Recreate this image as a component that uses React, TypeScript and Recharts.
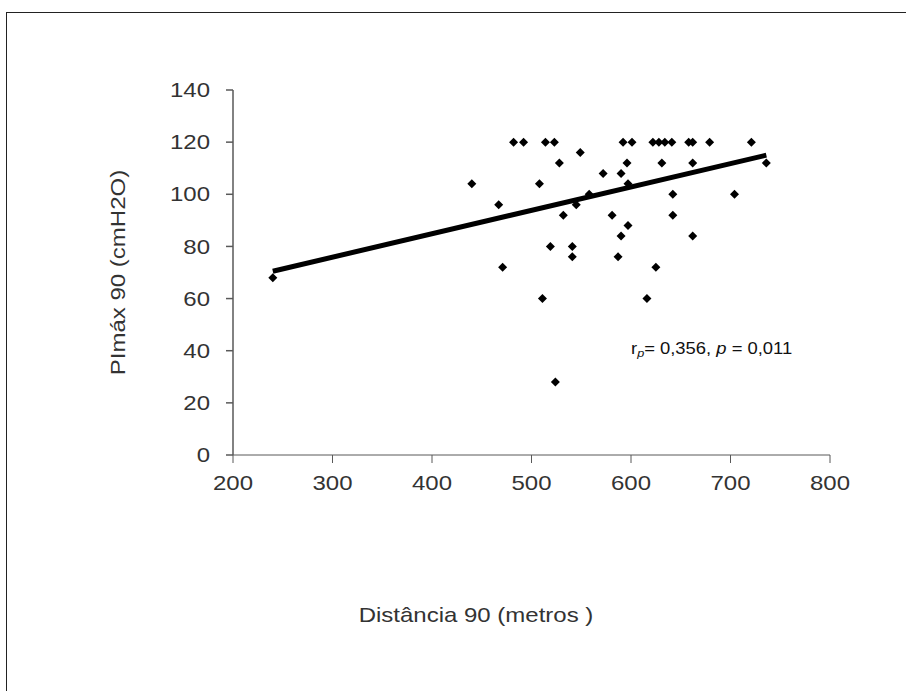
import { Label, ReferenceLine, Scatter, ScatterChart, XAxis, YAxis } from "recharts";

// Distância 90 (metros) x PImáx 90 (cmH2O)
const distancia = [
  240, 440, 467, 471, 482, 492, 508, 511, 514, 519, 523, 524, 528, 532, 541, 541,
  545, 549, 558, 572, 581, 587, 590, 590, 592, 596, 597, 597, 601, 616, 622, 625,
  628, 631, 634, 641, 642, 642, 658, 662, 662, 662, 679, 704, 721, 736,
];
const pimax = [
  68, 104, 96, 72, 120, 120, 104, 60, 120, 80, 120, 28, 112, 92, 80, 76,
  96, 116, 100, 108, 92, 76, 108, 84, 120, 112, 104, 88, 120, 60, 120, 72,
  120, 112, 120, 120, 100, 92, 120, 120, 112, 84, 120, 100, 120, 112,
];

// linha de tendência
const trendX = [240, 736];
const trendY = [70.5, 115];

const xTicks = [200, 300, 400, 500, 600, 700, 800];
const yTicks = [0, 20, 40, 60, 80, 100, 120, 140];

const points = distancia.map((x, i) => ({ x, y: pimax[i] }));
const font = "'Liberation Sans', Arial, sans-serif";
const axisColor = "#595959";
const textColor = "#333";
const stretch = 1.2;

function Diamond(props: any) {
  const { cx, cy } = props;
  const r = 4.5;
  return <polygon points={`${cx},${cy - r} ${cx + r},${cy} ${cx},${cy + r} ${cx - r},${cy}`} fill="#000" />;
}

// texto um pouco "esticado" como no Excel
function WideText({ x, y, anchor, dy, size, children, rotate }: any) {
  const tf = rotate ? `translate(${x},${y}) rotate(${rotate}) scale(${stretch},1)` : `translate(${x},${y}) scale(${stretch},1)`;
  return (
    <text transform={tf} textAnchor={anchor} dy={dy} fontSize={size} fill={textColor} fontFamily={font}>
      {children}
    </text>
  );
}

function XTick(props: any) {
  return <WideText x={props.x} y={props.y} anchor="middle" dy="0.71em" size={20}>{props.payload.value}</WideText>;
}

function YTick(props: any) {
  return <WideText x={props.x} y={props.y} anchor="end" dy="0.36em" size={20}>{props.payload.value}</WideText>;
}

export default function App() {
  return (
    <div style={{ position: "fixed", left: 0, top: 0, width: 906, height: 691, overflow: "hidden", background: "#fff", fontFamily: font }}>
      <div style={{ position: "absolute", left: 6, top: 12, width: 940, height: 720, border: "1.5px solid #222" }} />
      <div style={{ position: "absolute", left: 0, top: 0 }}>
        <ScatterChart width={906} height={691} margin={{ top: 90, right: 76, left: 173, bottom: 206 }}>
          <XAxis
            type="number"
            dataKey="x"
            domain={[200, 800]}
            ticks={xTicks}
            height={30}
            stroke={axisColor}
            tickSize={8}
            tickMargin={13}
            tick={<XTick />}
          >
            <Label
              content={(p: any) => (
                <WideText x={476} y={p.viewBox.y + 160} anchor="middle" dy="0.36em" size={20}>
                  Distância 90 (metros )
                </WideText>
              )}
            />
          </XAxis>
          <YAxis
            type="number"
            dataKey="y"
            domain={[0, 140]}
            ticks={yTicks}
            width={60}
            stroke={axisColor}
            strokeWidth={1.5}
            tickSize={7}
            tickMargin={16}
            tick={<YTick />}
          >
            <Label
              content={(p: any) => (
                <WideText x={p.viewBox.x - 55} y={p.viewBox.y + p.viewBox.height / 2} anchor="middle" dy="0.36em" size={20} rotate={-90}>
                  PImáx 90 (cmH2O)
                </WideText>
              )}
            />
          </YAxis>
          <ReferenceLine
            segment={[
              { x: trendX[0], y: trendY[0] },
              { x: trendX[1], y: trendY[1] },
            ]}
            stroke="#000"
            strokeWidth={5}
            ifOverflow="visible"
          />
          <Scatter data={points} shape={Diamond} isAnimationActive={false} />
        </ScatterChart>
      </div>
      <div
        style={{
          position: "absolute",
          left: 631,
          top: 340,
          fontSize: 16,
          color: "#111",
          whiteSpace: "nowrap",
          transform: "scaleX(1.15)",
          transformOrigin: "left center",
        }}
      >
        r<sub style={{ fontSize: 11, fontStyle: "italic", verticalAlign: "-3px" }}>p</sub>= 0,356, <i>p</i> = 0,011
      </div>
    </div>
  );
}
